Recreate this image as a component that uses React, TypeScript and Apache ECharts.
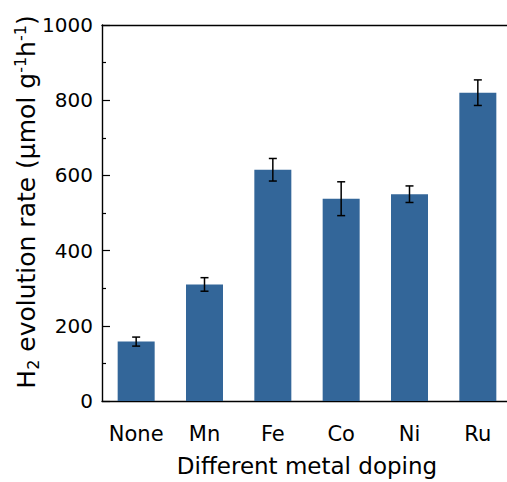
import React, { useEffect, useRef } from "react";
import * as echarts from "echarts";

const categories = ["None", "Mn", "Fe", "Co", "Ni", "Ru"];
const rates = [158, 310, 615, 538, 550, 820];
const errors = [12, 18, 30, 45, 22, 34];
const yTicks = [0, 200, 400, 600, 800, 1000];

const FONT = '"DejaVu Sans", sans-serif';
const CW = 520;

export default function App() {
  const ref = useRef<HTMLDivElement>(null);
  useEffect(() => {
    if (!ref.current) return;
    const chart = echarts.init(ref.current, null, { renderer: "svg" });
    const errData = rates.map((v, i) => [i, v - errors[i], v + errors[i]]);
    chart.setOption({
      animation: false,
      backgroundColor: "#ffffff",
      grid: { left: 102, top: 25, right: CW - 512, bottom: 81, containLabel: false },
      xAxis: [
        {
          type: "category",
          data: categories,
          position: "bottom",
          axisLine: { show: true, lineStyle: { color: "#000", width: 1.4 } },
          axisTick: { show: false },
          axisLabel: { color: "#000", fontSize: 21, fontFamily: FONT, margin: 22, interval: 0 },
          name: "Different metal doping",
          nameLocation: "middle",
          nameGap: 53,
          nameTextStyle: { color: "#000", fontSize: 23, fontFamily: FONT },
        },
        {
          type: "category",
          data: categories,
          position: "top",
          axisLine: { show: true, onZero: false, lineStyle: { color: "#000", width: 1.4 } },
          axisTick: { show: false },
          axisLabel: { show: false },
        },
      ],
      yAxis: {
        type: "value",
        min: 0,
        max: 1000,
        interval: 200,
        axisLine: { show: true, lineStyle: { color: "#000", width: 1.4 } },
        axisTick: { show: true, inside: true, length: 8, lineStyle: { color: "#000", width: 1.2 } },
        minorTick: { show: true, splitNumber: 2, length: 4, lineStyle: { color: "#000", width: 1.2 } },
        splitLine: { show: false },
        axisLabel: {
          color: "#000",
          fontSize: 20,
          fontFamily: FONT,
          margin: 9,
          formatter: (v: number) => (yTicks.includes(v) ? String(v) : ""),
        },
      },
      graphic: [
        {
          type: "text",
          x: 26,
          y: 202,
          rotation: Math.PI / 2,
          style: {
            text: "H{sub|2} evolution rate (μmol g{sup|-1}h{sup|-1})",
            fontSize: 25,
            fontFamily: FONT,
            fill: "#000",
            align: "center",
            verticalAlign: "middle",
            rich: {
              sub: { fontSize: 16, fontFamily: FONT, fill: "#000", padding: [14, 0, 0, 0] },
              sup: { fontSize: 16, fontFamily: FONT, fill: "#000", padding: [0, 0, 12, 0] },
            },
          },
        },
      ],
      series: [
        {
          type: "bar",
          data: rates,
          barWidth: 37,
          itemStyle: { color: "#336699" },
        },
        {
          type: "custom",
          data: errData,
          z: 10,
          renderItem: (params: any, api: any) => {
            const i = api.value(0);
            const lo = api.coord([i, api.value(1)]);
            const hi = api.coord([i, api.value(2)]);
            const x = lo[0];
            const hw = 4;
            const style = { stroke: "#000", lineWidth: 1.5 };
            return {
              type: "group",
              children: [
                { type: "line", shape: { x1: x, y1: lo[1], x2: x, y2: hi[1] }, style },
                { type: "line", shape: { x1: x - hw, y1: lo[1], x2: x + hw, y2: lo[1] }, style },
                { type: "line", shape: { x1: x - hw, y1: hi[1], x2: x + hw, y2: hi[1] }, style },
              ],
            };
          },
        },
      ],
    });
    return () => chart.dispose();
  }, []);
  return (
    <div style={{ position: "absolute", left: 0, top: 0, width: 507, height: 482, overflow: "hidden", background: "#fff" }}>
      <div ref={ref} style={{ width: CW, height: 482 }} />
    </div>
  );
}
